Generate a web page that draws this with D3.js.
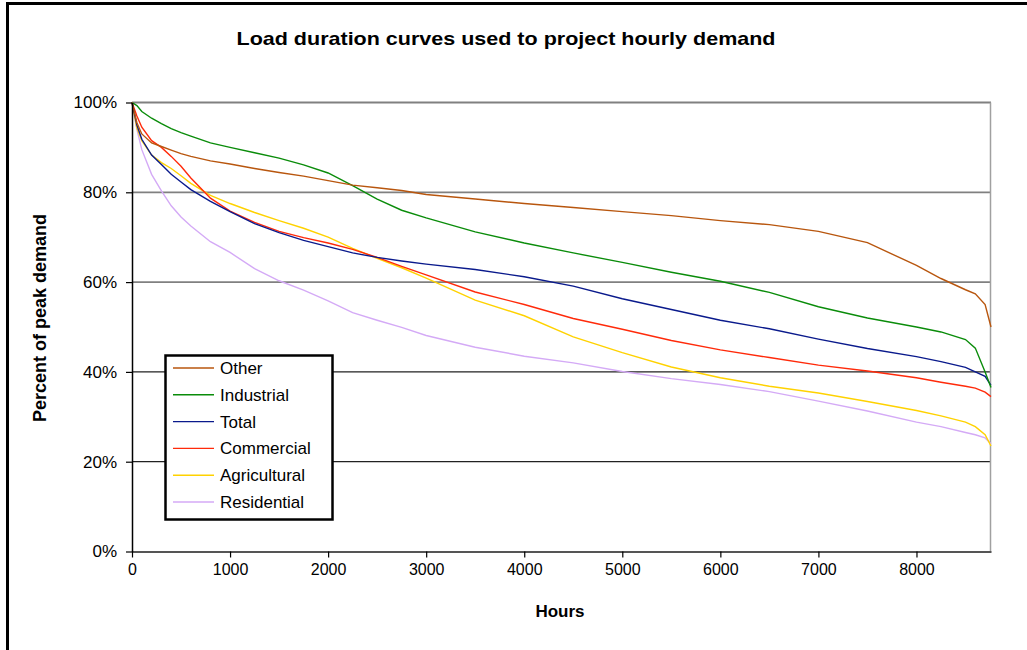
<!DOCTYPE html>
<html>
<head>
<meta charset="utf-8">
<script src="https://cdn.jsdelivr.net/npm/d3@7"></script>
<style>
  body { margin: 0; background: #fff; }
  text { font-family: "Liberation Sans", Arial, sans-serif; }
</style>
</head>
<body>
<div id="chart"></div>
<script>
let hours = [0, 50, 100, 200, 300, 400, 500, 600, 800, 1000, 1250, 1500, 1750, 2000, 2250, 2500, 2750, 3000,
             3500, 4000, 4500, 5000, 5500, 6000, 6500, 7000, 7500, 8000, 8250, 8500, 8600, 8700, 8760];

let other        = [100, 95.5, 93, 91, 90.2, 89.4, 88.6, 88, 87, 86.3, 85.3, 84.4, 83.6, 82.6, 81.6, 81, 80.4, 79.5,
                    78.5, 77.5, 76.6, 75.7, 74.8, 73.7, 72.8, 71.3, 68.8, 63.7, 60.8, 58.3, 57.4, 55, 50];
let industrial   = [100, 99.3, 98, 96.5, 95.3, 94.2, 93.3, 92.5, 91, 90, 88.8, 87.6, 86.1, 84.3, 81.5, 78.5, 76, 74.3,
                    71.2, 68.7, 66.5, 64.4, 62.2, 60.2, 57.7, 54.5, 52, 50, 48.9, 47.2, 45.3, 40, 36.5];
let total        = [100, 95, 91.8, 88.3, 86.2, 84, 82.3, 80.6, 78, 75.7, 73, 71, 69.3, 67.9, 66.5, 65.5, 64.7, 64,
                    62.8, 61.2, 59.1, 56.3, 53.9, 51.5, 49.6, 47.3, 45.2, 43.4, 42.3, 41, 40, 39, 37];
let commercial   = [100, 97, 94.5, 91.5, 90, 88, 85.8, 83.2, 78.7, 75.8, 73.3, 71.3, 69.9, 68.7, 67.3, 65.5, 63.5, 61.6,
                    57.8, 55, 51.9, 49.5, 47, 44.9, 43.2, 41.5, 40.2, 38.7, 37.7, 36.8, 36.4, 35.5, 34.5];
let agricultural = [100, 94.3, 91.5, 88.3, 86.6, 85.3, 83.7, 82, 79.3, 77.5, 75.5, 73.7, 72, 70, 67.5, 65.3, 63.2, 60.9,
                    56, 52.5, 47.8, 44.3, 41.1, 38.7, 36.8, 35.3, 33.4, 31.4, 30.2, 28.8, 27.8, 26, 23.5];
let residential  = [100, 94, 89.5, 84, 80.3, 77, 74.5, 72.5, 69, 66.6, 63, 60.3, 58.2, 55.8, 53.2, 51.5, 49.9, 48.1,
                    45.5, 43.5, 42, 40.1, 38.5, 37.2, 35.6, 33.5, 31.3, 28.8, 27.8, 26.5, 26, 25.3, 24];

let seriesNames = ["Other", "Industrial", "Total", "Commercial", "Agricultural", "Residential"];
let seriesValues = [other, industrial, total, commercial, agricultural, residential];
let seriesColors = ["#b8560e", "#0a8c0a", "#0a1a8c", "#ff2a0a", "#ffd200", "#d4aaf6"];

let xTicks = [0, 1000, 2000, 3000, 4000, 5000, 6000, 7000, 8000];
let yTicks = [0, 20, 40, 60, 80, 100];

let W = 1027, H = 650;

let svg = d3.select("#chart")
            .append("svg")
            .attr("width", W)
            .attr("height", H);

// outer frame (runs off the right and bottom edge)
svg.append("rect")
   .attr("x", 7.5).attr("y", 3.5)
   .attr("width", 1100).attr("height", 700)
   .style("fill", "#fff")
   .style("stroke", "#000")
   .style("stroke-width", 3);

let x = d3.scaleLinear().domain([0, 8760]).range([132, 991]);
let y = d3.scaleLinear().domain([0, 100]).range([551.5, 102.5]);

// gridlines
svg.append("g")
   .selectAll("line")
   .data(yTicks.slice(1))
   .enter()
   .append("line")
   .attr("x1", x(0)).attr("x2", x(8760))
   .attr("y1", d => y(d)).attr("y2", d => y(d))
   .style("stroke", d => d <= 40 ? "#222" : "#808080")
   .style("stroke-width", d => d <= 40 ? 1.2 : 1.8);

// right border of plot area
svg.append("line")
   .attr("x1", x(8760) - 0.5).attr("x2", x(8760) - 0.5)
   .attr("y1", y(100)).attr("y2", y(0))
   .style("stroke", "#a0a0a0")
   .style("stroke-width", 1.5);

// curves
let line = d3.line()
             .x((d, i) => x(hours[i]))
             .y(d => y(d));

svg.append("g")
   .attr("id", "curves")
   .selectAll("path")
   .data(seriesValues.slice().reverse())
   .enter()
   .append("path")
   .attr("d", d => line(d))
   .style("fill", "none")
   .style("stroke", (d, i) => seriesColors[seriesColors.length - 1 - i])
   .style("stroke-width", 1.4);

// axes
let xAxis = svg.append("g")
               .attr("transform", "translate(0," + y(0) + ")")
               .call(d3.axisBottom(x).tickValues(xTicks).tickFormat(d3.format("d")).tickSize(6).tickSizeOuter(0));
xAxis.select(".domain").style("stroke", "#555").style("stroke-width", 2);
xAxis.selectAll(".tick line").style("stroke", "#000").style("stroke-width", 1.2);
xAxis.selectAll("text")
     .attr("y", 12)
     .style("font-size", "16px")
     .style("fill", "#000");

let yAxis = svg.append("g")
               .attr("transform", "translate(" + x(0) + ",0)")
               .call(d3.axisLeft(y).tickValues(yTicks).tickFormat(d => d + "%").tickSize(6).tickSizeOuter(0));
yAxis.select(".domain").style("stroke", "#000").style("stroke-width", 1.5);
yAxis.selectAll(".tick line").style("stroke", "#000").style("stroke-width", 1.2);
yAxis.selectAll("text")
     .attr("x", -15)
     .style("font-size", "17px")
     .style("fill", "#000");

// titles
svg.append("text")
   .attr("x", 506).attr("y", 45)
   .attr("text-anchor", "middle")
   .attr("textLength", 539)
   .attr("lengthAdjust", "spacingAndGlyphs")
   .style("font-size", "19px")
   .style("font-weight", "bold")
   .text("Load duration curves used to project hourly demand");

svg.append("text")
   .attr("x", 560).attr("y", 617)
   .attr("text-anchor", "middle")
   .style("font-size", "17px")
   .style("font-weight", "bold")
   .text("Hours");

svg.append("text")
   .attr("transform", "translate(46,318) rotate(-90)")
   .attr("text-anchor", "middle")
   .style("font-size", "18px")
   .style("font-weight", "bold")
   .text("Percent of peak demand");

// legend
let legend = svg.append("g").attr("id", "legend");
legend.append("rect")
      .attr("x", 165.5).attr("y", 355.5)
      .attr("width", 167).attr("height", 164)
      .style("fill", "#fff")
      .style("stroke", "#000")
      .style("stroke-width", 2.5);

let rows = legend.selectAll("g.row")
                 .data(seriesNames)
                 .enter()
                 .append("g")
                 .attr("class", "row")
                 .attr("transform", (d, i) => "translate(0," + (368 + i * 26.8) + ")");
rows.append("line")
    .attr("x1", 173).attr("x2", 214)
    .attr("y1", 0).attr("y2", 0)
    .style("stroke", (d, i) => seriesColors[i])
    .style("stroke-width", 1.4);
rows.append("text")
    .attr("x", 220).attr("y", 6)
    .style("font-size", "17px")
    .text(d => d);
</script>
</body>
</html>
